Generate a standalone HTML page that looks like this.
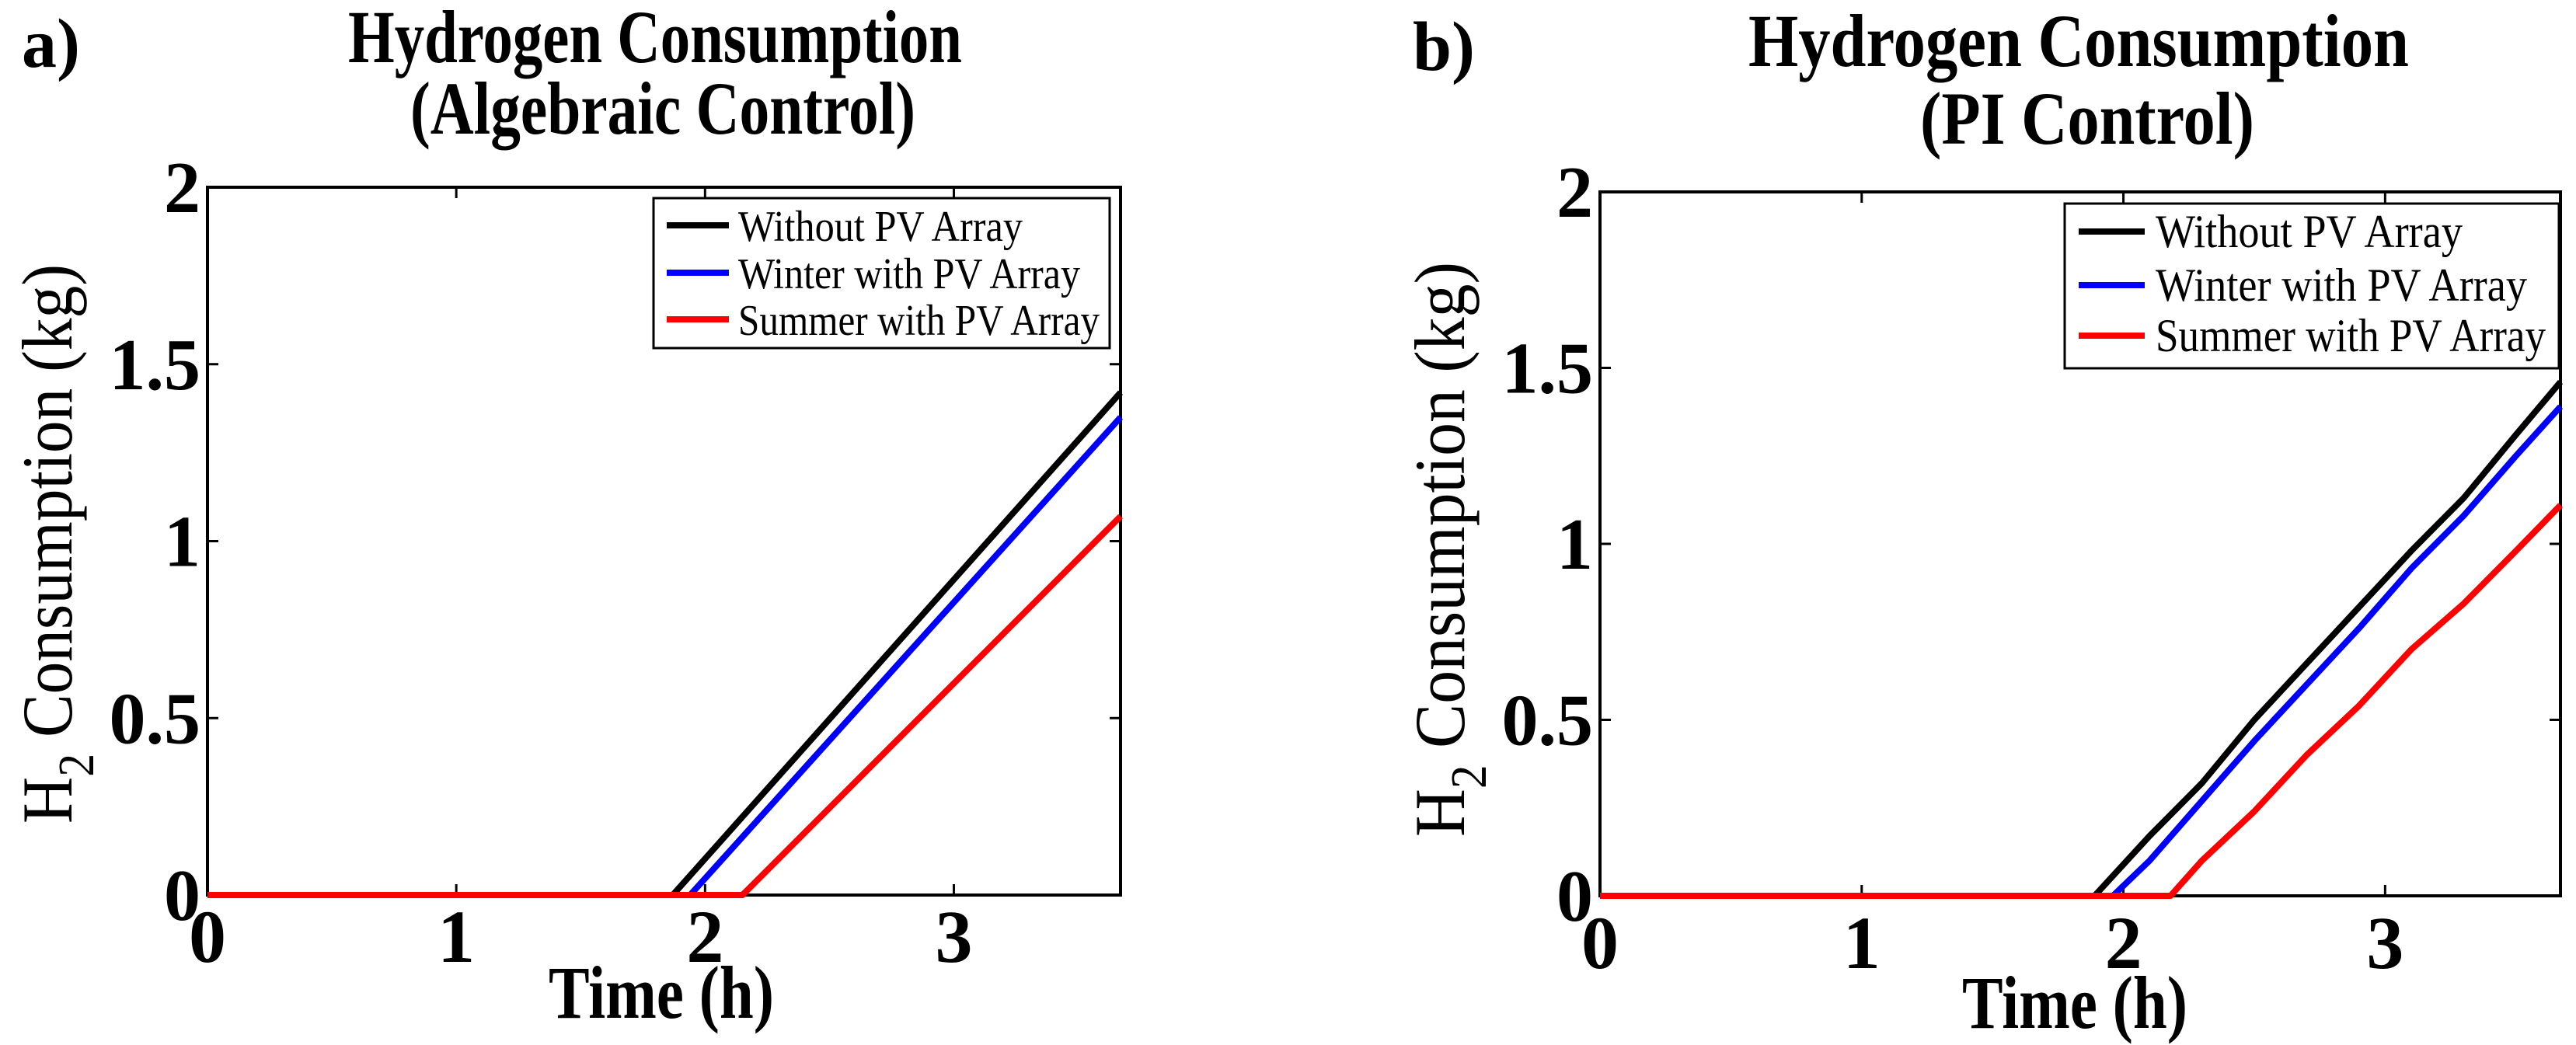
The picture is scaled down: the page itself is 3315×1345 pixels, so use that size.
<!DOCTYPE html>
<html><head><meta charset="utf-8">
<style>
html,body{margin:0;padding:0;background:#fff;}
svg{display:block;}
text{font-family:"Liberation Serif","Times New Roman",serif;fill:#000;}
</style></head>
<body>
<svg id="fig" width="3315" height="1345" viewBox="0 0 3315 1345" xmlns="http://www.w3.org/2000/svg"></svg>
<script>
// ---- data ----
const xTicks = [0, 1, 2, 3];
const yTicks = [0, 0.5, 1, 1.5, 2];
const yTickLabels = ["0", "0.5", "1", "1.5", "2"];
const seriesNames = ["Without PV Array", "Winter with PV Array", "Summer with PV Array"];
const seriesColors = ["#000000", "#0000ff", "#ff0000"];
// panel a (algebraic control): [time, kg]
const aWithout = [[0,0],[1.87,0],[3.67,1.42]];
const aWinter  = [[0,0],[1.94,0],[3.67,1.35]];
const aSummer  = [[0,0],[2.15,0],[3.67,1.07]];
// panel b (PI control): [time, kg]
const bWithout = [[0,0],[1.89,0],[2.1,0.17],[2.3,0.32],[2.5,0.5],[2.7,0.66],[2.9,0.82],[3.1,0.98],[3.3,1.13],[3.5,1.31],[3.67,1.46]];
const bWinter  = [[0,0],[1.96,0],[2.1,0.1],[2.3,0.27],[2.5,0.44],[2.7,0.6],[2.9,0.76],[3.1,0.93],[3.3,1.08],[3.5,1.25],[3.67,1.39]];
const bSummer  = [[0,0],[2.18,0],[2.3,0.1],[2.5,0.24],[2.7,0.4],[2.9,0.54],[3.1,0.7],[3.3,0.83],[3.5,0.98],[3.67,1.11]];
const xMax = 3.67, yMax = 2;

const NS = "http://www.w3.org/2000/svg";
const svg = document.getElementById('fig');
function mk(tag, attrs, parent, txt){
  const e = document.createElementNS(NS, tag);
  for (const k in attrs) e.setAttribute(k, attrs[k]);
  if (txt !== undefined) e.textContent = txt;
  (parent || svg).appendChild(e);
  return e;
}

function panel(cfg){
  const g = mk('g', {});
  
  
  const L = cfg.L, R = cfg.R, T = cfg.T, B = cfg.B;
  const sx = v => L + (v / xMax) * (R - L);
  const sy = v => B - (v / yMax) * (B - T);

  const letter = mk('text', {x: cfg.letterX, y: cfg.letterY, 'font-size': 90, 'font-weight': 'bold'}, g, cfg.letter);
  
  
  const t1 = mk('text', {x: cfg.titleX, y: cfg.t1Y, 'font-size': 96, 'font-weight': 'bold', 'text-anchor': 'middle', textLength: cfg.t1W, lengthAdjust: 'spacingAndGlyphs'}, g, 'Hydrogen Consumption');
  
  
  const t2 = mk('text', {x: cfg.title2X, y: cfg.t2Y, 'font-size': 96, 'font-weight': 'bold', 'text-anchor': 'middle', textLength: cfg.t2W, lengthAdjust: 'spacingAndGlyphs'}, g, cfg.sub);
  
  

  const box = mk('rect', {x: L, y: T, width: R - L, height: B - T, fill: '#fff', stroke: '#000', 'stroke-width': 4}, g);
  
  

  xTicks.forEach(v => {
    const x = sx(v);
    mk('line', {x1: x, y1: B, x2: x, y2: B - 14, stroke: '#000', 'stroke-width': 3}, g);
    mk('line', {x1: x, y1: T, x2: x, y2: T + 14, stroke: '#000', 'stroke-width': 3}, g);
    const tl = mk('text', {x: x, y: cfg.xTickY, 'font-size': 96, 'font-weight': 'bold', 'text-anchor': 'middle'}, g, String(v));
    
    
  });
  yTicks.forEach((v, i) => {
    const y = sy(v);
    mk('line', {x1: L, y1: y, x2: L + 14, y2: y, stroke: '#000', 'stroke-width': 3}, g);
    mk('line', {x1: R, y1: y, x2: R - 14, y2: y, stroke: '#000', 'stroke-width': 3}, g);
    const tl = mk('text', {x: cfg.yTickX, y: y + 32, 'font-size': 94, 'font-weight': 'bold', 'text-anchor': 'end'}, g, yTickLabels[i]);
    
    
  });

  const xl = mk('text', {x: cfg.xLabX, y: cfg.xLabY, 'font-size': 96, 'font-weight': 'bold', 'text-anchor': 'middle', textLength: 290, lengthAdjust: 'spacingAndGlyphs'}, g, 'Time (h)');
  
  
  const yl = mk('text', {x: 0, y: 0, 'font-size': 92, 'text-anchor': 'middle', transform: `translate(${cfg.yLabX},${cfg.yLabY}) rotate(-90)`, textLength: cfg.yLabW, lengthAdjust: 'spacingAndGlyphs'}, g);
  
  
  mk('tspan', {}, yl, 'H');
  mk('tspan', {dy: 28, 'font-size': 66}, yl, '2');
  mk('tspan', {dy: -28}, yl, ' Consumption (kg)');

  cfg.series.forEach((data, i) => {
    const d = data.map((p, j) => (j ? 'L' : 'M') + sx(p[0]).toFixed(1) + ',' + sy(p[1]).toFixed(1)).join(' ');
    const p = mk('path', {d: d, fill: 'none', stroke: seriesColors[i], 'stroke-width': 8, 'stroke-linejoin': 'round'}, g);
    
    
  });

  const lg = mk('g', {}, g);
  
  
  mk('rect', {x: cfg.lgX, y: cfg.lgY, width: cfg.lgW, height: cfg.lgH, fill: '#fff', stroke: '#000', 'stroke-width': 3}, lg);
  seriesNames.forEach((n, i) => {
    const e = mk('g', {}, lg);
    
    
    const ly = cfg.lgLineY[i];
    mk('line', {x1: cfg.lgLx1, y1: ly, x2: cfg.lgLx2, y2: ly, stroke: seriesColors[i], 'stroke-width': 8}, e);
    mk('text', {x: cfg.lgTx, y: ly + 20, 'font-size': cfg.lgFs, textLength: cfg.lgTW[i], lengthAdjust: 'spacingAndGlyphs'}, e, n);
  });
}

panel({
  id: 'panel-a', letter: 'a)', letterX: 28, letterY: 86,
  titleX: 843, t1Y: 80, t1W: 790, title2X: 853, t2Y: 172, t2W: 650, sub: '(Algebraic Control)',
  L: 267, R: 1442, T: 241, B: 1152,
  xTickY: 1238, yTickX: 258,
  xLabX: 851, xLabY: 1310, yLabX: 92, yLabY: 700, yLabW: 720,
  series: [aWithout, aWinter, aSummer],
  lgX: 841, lgY: 255, lgW: 587, lgH: 193,
  lgLineY: [290, 351, 411], lgLx1: 858, lgLx2: 938, lgTx: 950, lgFs: 56,
  lgTW: [366, 440, 465]
});
panel({
  id: 'panel-b', letter: 'b)', letterX: 1818, letterY: 90,
  titleX: 2675, t1Y: 85, t1W: 850, title2X: 2686, t2Y: 185, t2W: 430, sub: '(PI Control)',
  L: 2059, R: 3295, T: 247, B: 1153,
  xTickY: 1246, yTickX: 2050,
  xLabX: 2670, xLabY: 1323, yLabX: 1884, yLabY: 707, yLabW: 740,
  series: [bWithout, bWinter, bSummer],
  lgX: 2657, lgY: 262, lgW: 636, lgH: 212,
  lgLineY: [298, 367, 432], lgLx1: 2675, lgLx2: 2760, lgTx: 2774, lgFs: 60,
  lgTW: [395, 478, 502]
});
</script>
</body></html>
